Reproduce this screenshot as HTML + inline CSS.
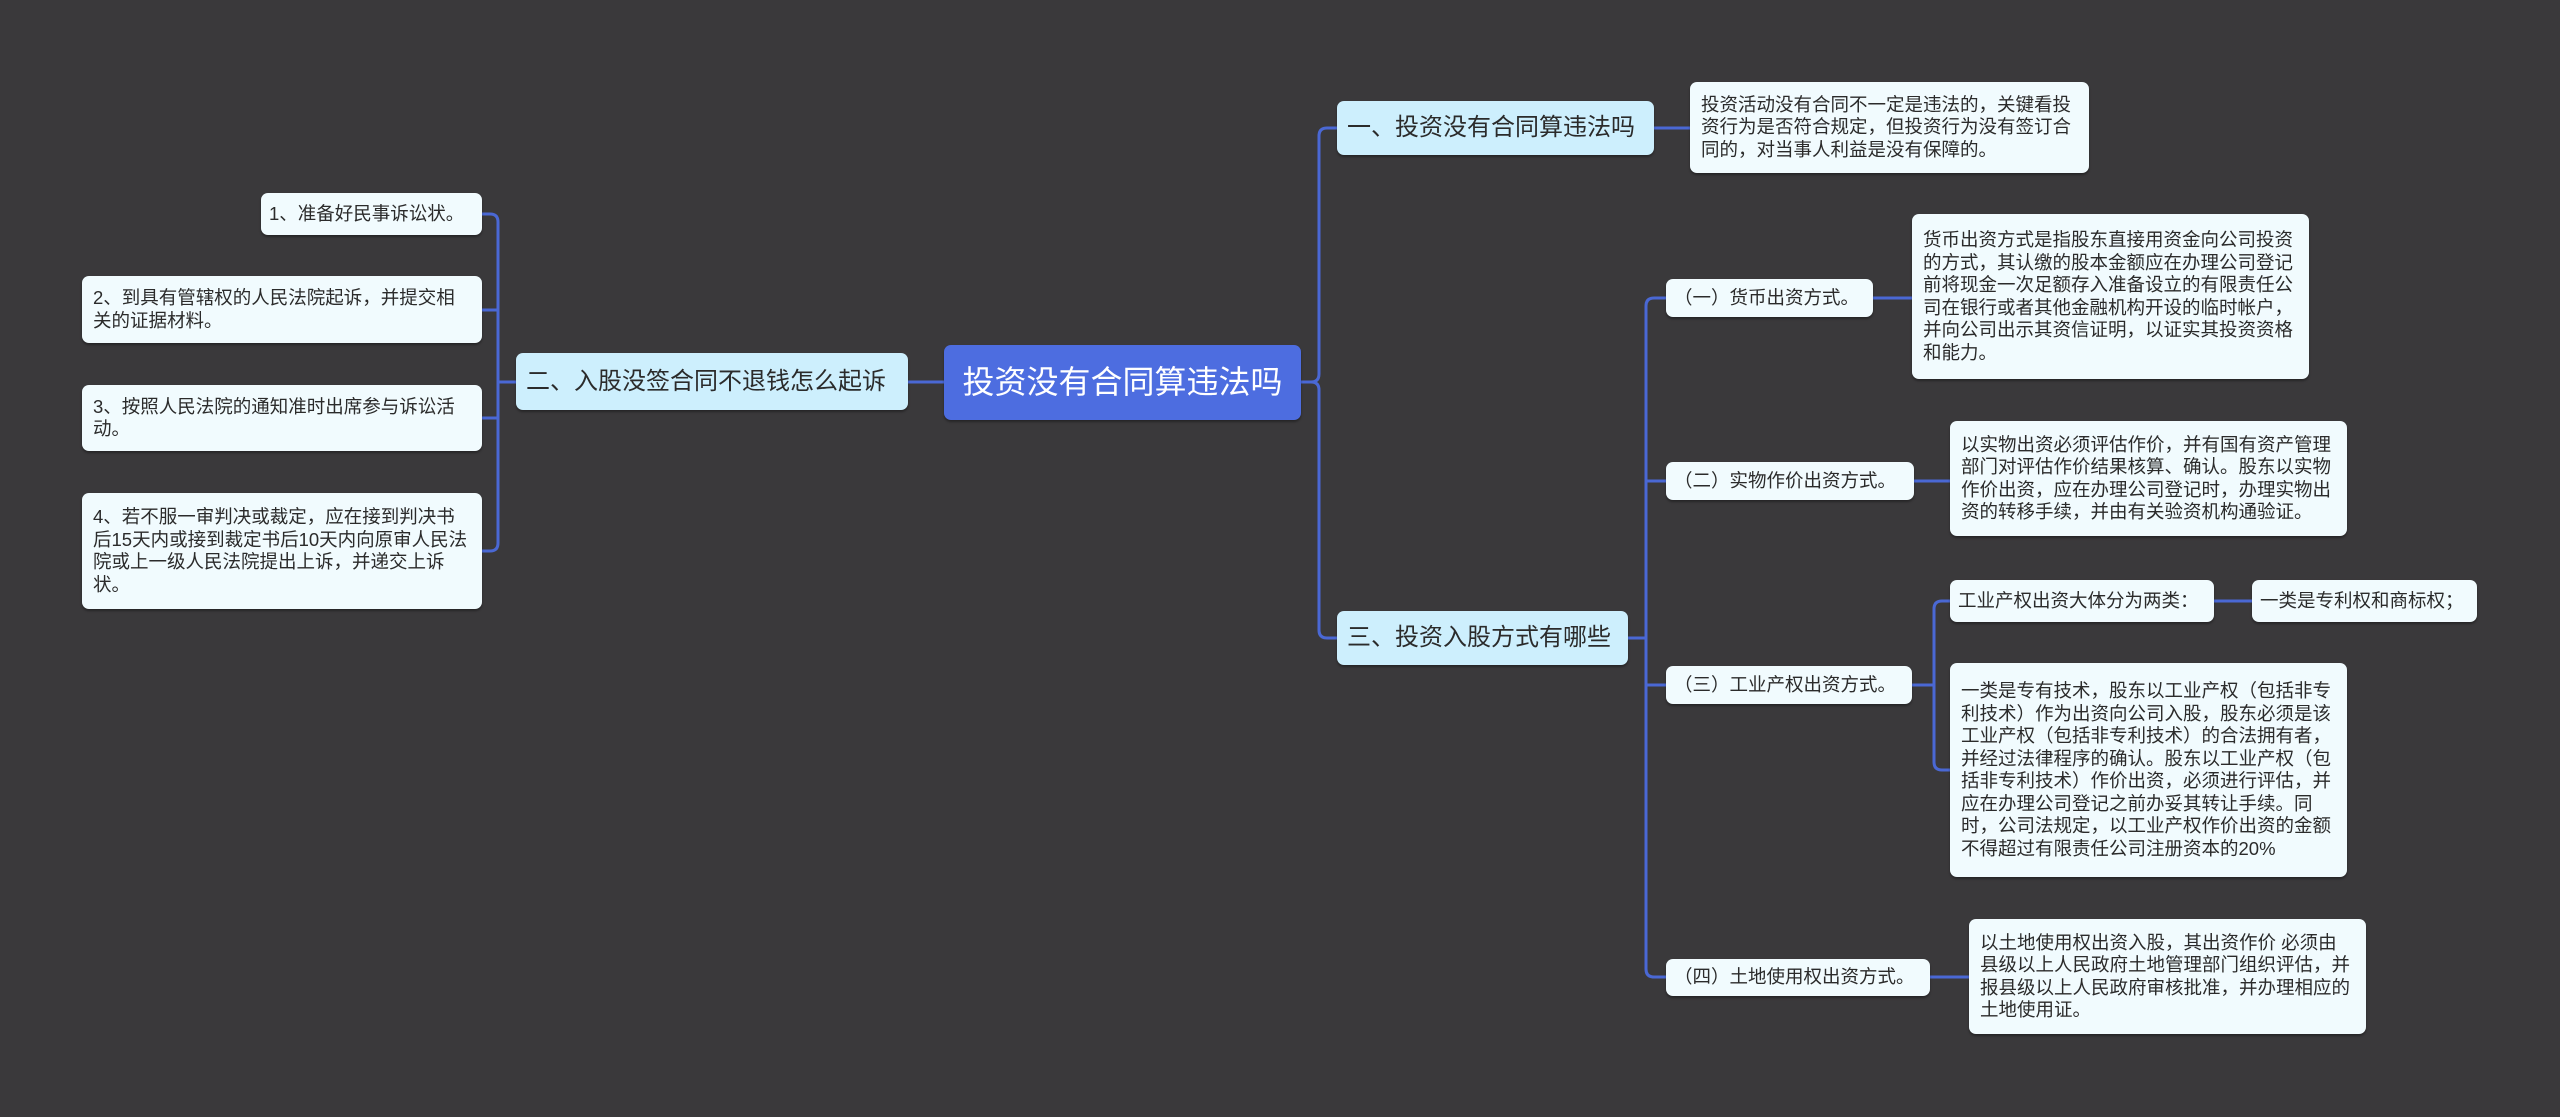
<!DOCTYPE html>
<html><head><meta charset="utf-8"><style>
body{margin:0;width:2560px;height:1117px;background:#3a393b;position:relative;overflow:hidden;font-family:"Liberation Sans","Noto Sans CJK SC",sans-serif;}
.n{position:absolute;box-sizing:border-box;background:#f1fbfe;border-radius:7px;color:#2b2b2b;font-size:18.5px;line-height:22.5px;padding:6px 11px;display:flex;align-items:center;box-shadow:0 2px 2px rgba(0,0,0,.35);}
.s{white-space:nowrap;padding:0 8px;}
.b{background:#cdeffd;font-size:24px;line-height:30px;padding:0 10px;white-space:nowrap;}
.r{background:#4d6de0;color:#fff;font-size:32px;justify-content:center;}
svg{position:absolute;left:0;top:0}
</style></head><body>
<svg width="2560" height="1117"><g fill="none" stroke="#4a68d4" stroke-width="3">
<path d="M1301 382H1311Q1319 382 1319 374V136Q1319 128 1327 128H1337"/>
<path d="M1311 382Q1319 382 1319 390V630Q1319 638 1327 638H1337"/>
<path d="M944 382H908"/>
<path d="M516 382H498"/>
<path d="M482 214H490Q498 214 498 222V543Q498 551 490 551H482"/>
<path d="M482 310H498"/>
<path d="M482 418H498"/>
<path d="M1654 128H1690"/>
<path d="M1628 638H1646"/>
<path d="M1666 298H1654Q1646 298 1646 306V969Q1646 977 1654 977H1666"/>
<path d="M1646 481H1666M1646 685H1666"/>
<path d="M1873 298H1912M1914 481H1950"/>
<path d="M1912 685H1934"/>
<path d="M1950 601H1942Q1934 601 1934 609V762Q1934 770 1942 770H1950"/>
<path d="M2214 601H2252M1930 977H1969"/>
</g></svg>
<div class="n r" style="left:944px;top:345px;width:357px;height:75px">投资没有合同算违法吗</div>
<div class="n b" style="left:516px;top:353px;width:392px;height:57px">二、入股没签合同不退钱怎么起诉</div>
<div class="n s" style="left:261px;top:193px;width:221px;height:42px">1、准备好民事诉讼状。</div>
<div class="n" style="left:82px;top:276px;width:400px;height:67px">2、到具有管辖权的人民法院起诉，并提交相关的证据材料。</div>
<div class="n" style="left:82px;top:385px;width:400px;height:66px">3、按照人民法院的通知准时出席参与诉讼活动。</div>
<div class="n" style="left:82px;top:493px;width:400px;height:116px">4、若不服一审判决或裁定，应在接到判决书后15天内或接到裁定书后10天内向原审人民法院或上一级人民法院提出上诉，并递交上诉状。</div>
<div class="n b" style="left:1337px;top:101px;width:317px;height:54px">一、投资没有合同算违法吗</div>
<div class="n" style="left:1690px;top:82px;width:399px;height:91px">投资活动没有合同不一定是违法的，关键看投资行为是否符合规定，但投资行为没有签订合同的，对当事人利益是没有保障的。</div>
<div class="n b" style="left:1337px;top:611px;width:291px;height:54px">三、投资入股方式有哪些</div>
<div class="n s" style="left:1666px;top:279px;width:207px;height:38px">（一）货币出资方式。</div>
<div class="n" style="left:1912px;top:214px;width:397px;height:165px">货币出资方式是指股东直接用资金向公司投资的方式，其认缴的股本金额应在办理公司登记前将现金一次足额存入准备设立的有限责任公司在银行或者其他金融机构开设的临时帐户，并向公司出示其资信证明，以证实其投资资格和能力。</div>
<div class="n s" style="left:1666px;top:462px;width:248px;height:38px">（二）实物作价出资方式。</div>
<div class="n" style="left:1950px;top:421px;width:397px;height:115px">以实物出资必须评估作价，并有国有资产管理部门对评估作价结果核算、确认。股东以实物作价出资，应在办理公司登记时，办理实物出资的转移手续，并由有关验资机构通验证。</div>
<div class="n s" style="left:1666px;top:666px;width:246px;height:38px">（三）工业产权出资方式。</div>
<div class="n s" style="left:1950px;top:580px;width:264px;height:42px">工业产权出资大体分为两类：</div>
<div class="n s" style="left:2252px;top:580px;width:225px;height:42px">一类是专利权和商标权；</div>
<div class="n" style="left:1950px;top:663px;width:397px;height:214px">一类是专有技术，股东以工业产权（包括非专利技术）作为出资向公司入股，股东必须是该工业产权（包括非专利技术）的合法拥有者，并经过法律程序的确认。股东以工业产权（包括非专利技术）作价出资，必须进行评估，并应在办理公司登记之前办妥其转让手续。同时，公司法规定，以工业产权作价出资的金额不得超过有限责任公司注册资本的20%</div>
<div class="n s" style="left:1666px;top:959px;width:264px;height:37px">（四）土地使用权出资方式。</div>
<div class="n" style="left:1969px;top:919px;width:397px;height:115px">以土地使用权出资入股，其出资作价 必须由县级以上人民政府土地管理部门组织评估，并报县级以上人民政府审核批准，并办理相应的土地使用证。</div>
</body></html>
